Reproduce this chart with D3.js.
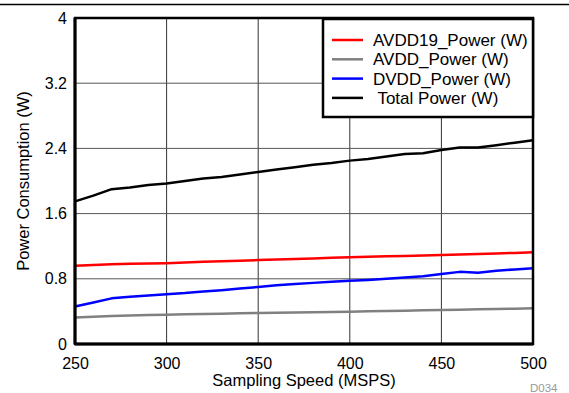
<!DOCTYPE html>
<meta charset="utf-8">
<script src="https://d3js.org/d3.v7.min.js"></script>
<style>
  body { margin: 0; background: #fff; }
  text { font-family: Arial, "Liberation Sans", sans-serif; }
</style>
<div id="chart"></div>
<script>
// data
var speeds = [250, 260, 270, 280, 290, 300, 310, 320, 330, 340, 350, 360, 370,
              380, 390, 400, 410, 420, 430, 440, 450, 460, 470, 480, 490, 500];
var avdd19 = [0.96, 0.97, 0.98, 0.984, 0.988, 0.992, 1.0, 1.008, 1.015, 1.022, 1.03, 1.037, 1.044,
              1.05, 1.057, 1.064, 1.07, 1.076, 1.081, 1.087, 1.092, 1.099, 1.105, 1.11, 1.118, 1.125];
var avdd   = [0.325, 0.335, 0.345, 0.35, 0.355, 0.36, 0.364, 0.368, 0.372, 0.376, 0.38, 0.384, 0.387,
              0.39, 0.393, 0.397, 0.401, 0.405, 0.409, 0.413, 0.417, 0.421, 0.425, 0.429, 0.433, 0.438];
var dvdd   = [0.46, 0.51, 0.56, 0.58, 0.595, 0.61, 0.625, 0.645, 0.66, 0.68, 0.70, 0.72, 0.735,
              0.75, 0.765, 0.775, 0.785, 0.80, 0.815, 0.83, 0.86, 0.885, 0.875, 0.90, 0.915, 0.93];
var total  = [1.75, 1.82, 1.90, 1.92, 1.95, 1.97, 2.00, 2.03, 2.05, 2.08, 2.11, 2.14, 2.17,
              2.20, 2.22, 2.25, 2.27, 2.30, 2.33, 2.34, 2.38, 2.41, 2.41, 2.44, 2.47, 2.50];
var seriesNames = ["AVDD19_Power (W)", "AVDD_Power (W)", "DVDD_Power (W)", " Total Power (W)"];
var xTicks = [250, 300, 350, 400, 450, 500];
var yTicks = [0, 0.8, 1.6, 2.4, 3.2, 4];

var colors = ["#ff0000", "#808080", "#0000ff", "#000000"];
var series = [avdd19, avdd, dvdd, total];

var W = 569, H = 393;
var margin = {top: 18, right: 36, bottom: 49, left: 75},
    width = W - margin.left - margin.right,
    height = H - margin.top - margin.bottom;

var svg = d3.select("#chart").append("svg")
    .attr("width", W).attr("height", H);

// top rule
svg.append("line")
    .attr("x1", 0).attr("x2", W).attr("y1", 4.5).attr("y2", 4.5)
    .attr("stroke", "#000").attr("stroke-width", 1.5);

var g = svg.append("g")
    .attr("transform", "translate(" + margin.left + "," + margin.top + ")");

var x = d3.scaleLinear().domain([250, 500]).range([0, width]);
var y = d3.scaleLinear().domain([0, 4]).range([height, 0]);

// grid
g.selectAll(".vgrid").data(xTicks.slice(1, -1)).enter().append("line")
    .attr("x1", d => x(d)).attr("x2", d => x(d))
    .attr("y1", 0).attr("y2", height)
    .attr("stroke", "#333").attr("stroke-width", 1);
g.selectAll(".hgrid").data(yTicks.slice(1, -1)).enter().append("line")
    .attr("x1", 0).attr("x2", width)
    .attr("y1", d => y(d)).attr("y2", d => y(d))
    .attr("stroke", "#555").attr("stroke-width", 1);

// axes
var xAxis = g.append("g")
    .attr("transform", "translate(0," + height + ")")
    .call(d3.axisBottom(x).tickValues(xTicks).tickSize(0).tickPadding(14));
var yAxis = g.append("g")
    .call(d3.axisLeft(y).tickValues(yTicks).tickSize(0).tickPadding(8)
          .tickFormat(d3.format("")));
[xAxis, yAxis].forEach(function(a) {
    a.select(".domain").remove();
    a.selectAll("text").style("font-size", "16px").attr("fill", "#000");
});

// lines
var line = d3.line()
    .x((d, i) => x(speeds[i]))
    .y(d => y(d));
series.forEach(function(s, k) {
    g.append("path")
        .attr("d", line(s))
        .attr("fill", "none")
        .attr("stroke", colors[k])
        .attr("stroke-width", 2.5)
        .attr("stroke-linejoin", "round");
});

// plot frame
g.append("rect")
    .attr("width", width).attr("height", height)
    .attr("fill", "none").attr("stroke", "#000").attr("stroke-width", 2.5);
g.append("line").attr("x1", 0).attr("x2", 0).attr("y1", 0).attr("y2", height)
    .attr("stroke", "#000").attr("stroke-width", 3);
g.append("line").attr("x1", 0).attr("x2", width).attr("y1", height).attr("y2", height)
    .attr("stroke", "#000").attr("stroke-width", 3);

// axis titles
svg.append("text")
    .attr("x", margin.left + width / 2).attr("y", 386)
    .attr("text-anchor", "middle")
    .style("font-size", "16.5px")
    .text("Sampling Speed (MSPS)");
svg.append("text")
    .attr("transform", "translate(29," + 181 + ") rotate(-90)")
    .attr("text-anchor", "middle")
    .style("font-size", "16.5px")
    .text("Power Consumption (W)");

// legend
var legend = svg.append("g").attr("transform", "translate(323,19)");
legend.append("rect")
    .attr("width", 210).attr("height", 98)
    .attr("fill", "#fff").attr("stroke", "#000").attr("stroke-width", 2.5);
seriesNames.forEach(function(name, k) {
    var ly = 21 + k * 19.3;
    legend.append("line")
        .attr("x1", 9).attr("x2", 40).attr("y1", ly).attr("y2", ly)
        .attr("stroke", colors[k]).attr("stroke-width", 2.5);
    legend.append("text")
        .attr("x", 50).attr("y", ly).attr("dy", "0.35em")
        .style("font-size", "17px")
        .style("white-space", "pre")
        .text(name);
});

// figure id
svg.append("text")
    .attr("x", 530).attr("y", 392)
    .style("font-size", "11.5px").attr("fill", "#999")
    .text("D034");
</script>
